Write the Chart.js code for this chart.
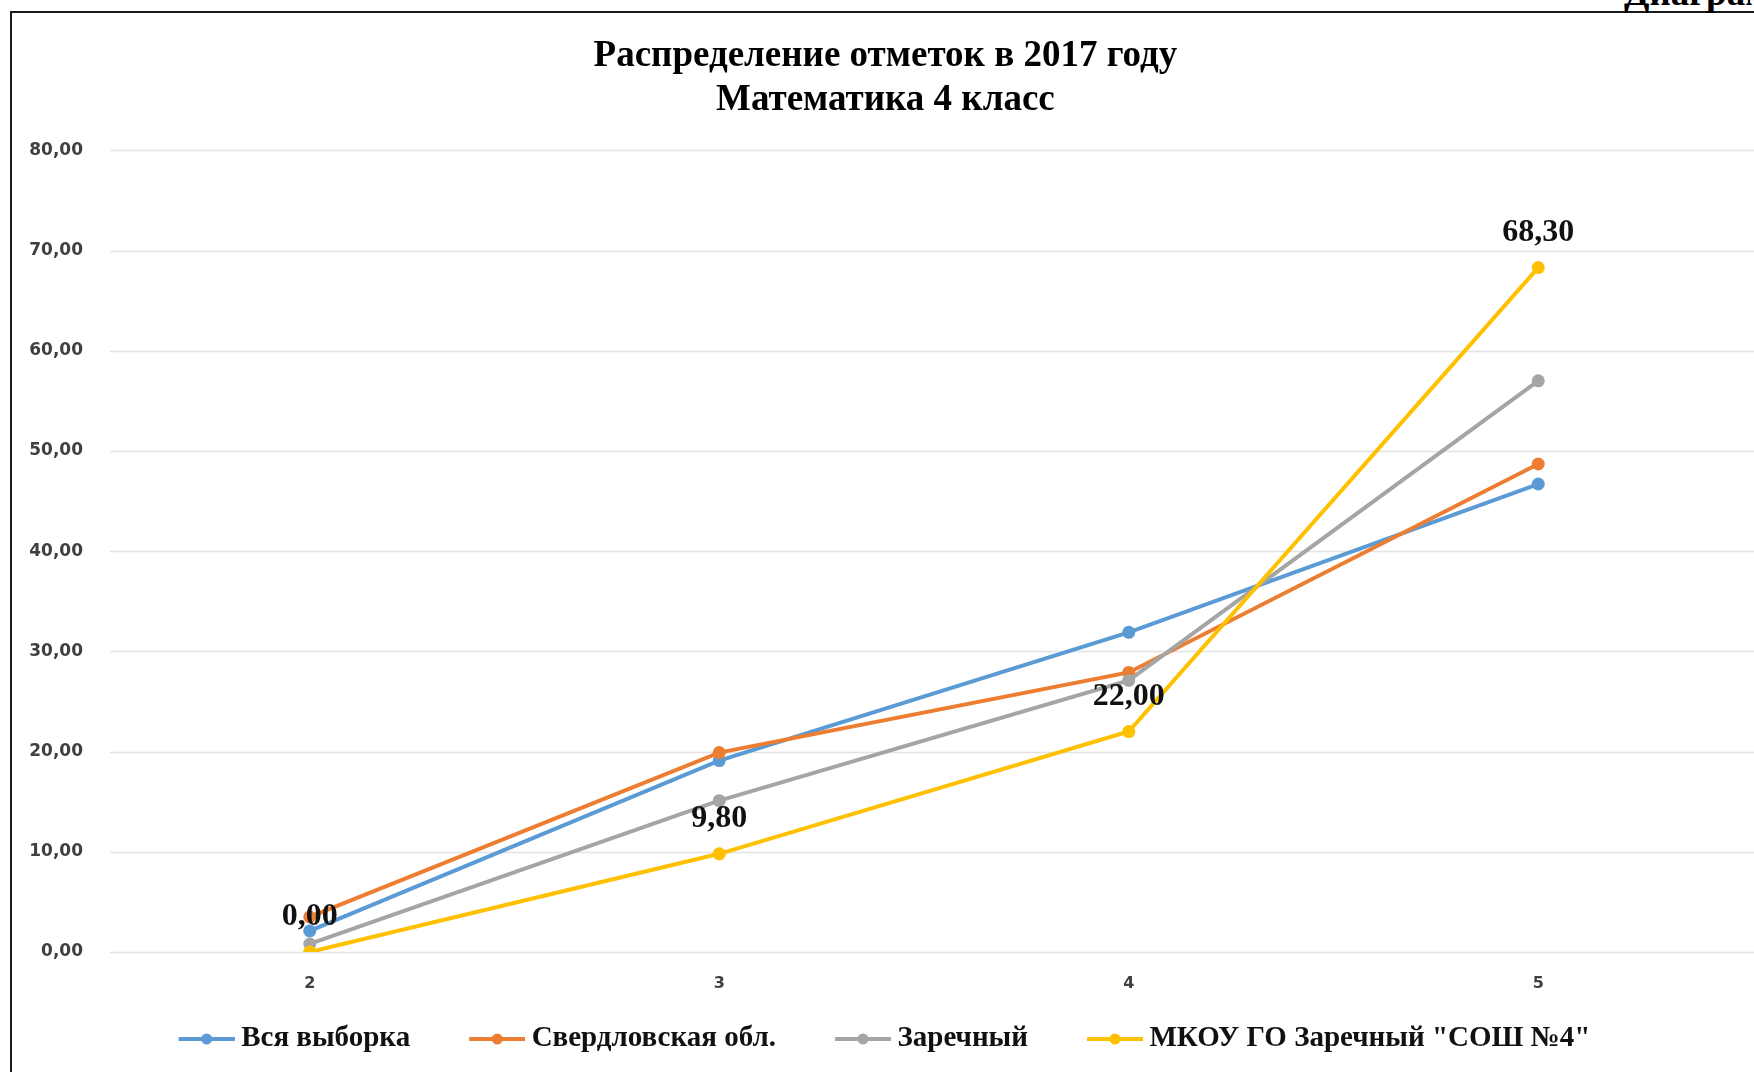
<!DOCTYPE html>
<html>
<head>
<meta charset="utf-8">
<title>Распределение отметок в 2017 году</title>
<script src="https://cdn.jsdelivr.net/npm/chart.js@4/dist/chart.umd.min.js"></script>
<style>
    html, body { margin: 0; padding: 0; background: #fff; overflow: hidden; }
    #wrap { position: relative; width: 1754px; height: 1072px; overflow: hidden; }
    #frame {
        position: absolute; left: 10px; top: 11px; width: 1800px; height: 1200px;
        border-left: 2px solid #1a1a1a; border-top: 2px solid #1a1a1a;
    }
    #caption {
        position: absolute; left: 1624px; top: -26px; white-space: nowrap;
        font: bold 37px/1 "Liberation Serif", serif; color: #000;
    }
    #chart { position: absolute; left: 0; top: 0; }
</style>
</head>
<body>
<div id="wrap">
    <div id="frame"></div>
    <div id="caption">Диаграмма 1</div>
    <canvas id="chart" width="1754" height="1072"></canvas>
</div>
<script>
    var categories = ["2", "3", "4", "5"];
    var allSample = [2.1, 19.1, 31.9, 46.7];      // Вся выборка
    var sverdlovsk = [3.5, 19.9, 27.9, 48.7];     // Свердловская обл.
    var zarechny = [0.8, 15.1, 27.1, 57.0];       // Заречный
    var school = [0.00, 9.80, 22.00, 68.30];      // МКОУ ГО Заречный "СОШ №4"
    var seriesNames = ["Вся выборка", "Свердловская обл.", "Заречный", "МКОУ ГО Заречный \"СОШ №4\""];
    var seriesColors = ["#5B9BD5", "#ED7D31", "#A5A5A5", "#FFC000"];
    var yMin = 0, yMax = 80, yStep = 10;

    function fmt(v) {
        return v.toFixed(2).replace(".", ",");
    }

    // line-with-dot picture for the legend, like in Excel.
    // the left part is empty so the items get more room between them
    function legendIcon(color) {
        var c = document.createElement("canvas");
        c.width = 90;
        c.height = 14;
        var g = c.getContext("2d");
        g.strokeStyle = color;
        g.lineWidth = 4;
        g.beginPath();
        g.moveTo(34, 7);
        g.lineTo(90, 7);
        g.stroke();
        g.fillStyle = color;
        g.beginPath();
        g.arc(62, 7, 5.5, 0, Math.PI * 2);
        g.fill();
        return c;
    }

    function makeSet(i, data, order) {
        return {
            label: seriesNames[i],
            data: data,
            order: order,
            borderColor: seriesColors[i],
            backgroundColor: seriesColors[i],
            borderWidth: 4,
            pointRadius: 6.5,
            pointBorderWidth: 0,
            pointBackgroundColor: seriesColors[i],
            tension: 0,
            fill: false
        };
    }

    // Excel draws the value grid from a bit right of the labels to the page edge
    var edgeGrid = {
        id: "edgeGrid",
        beforeDatasetsDraw: function(chart) {
            var ctx = chart.ctx;
            var y = chart.scales.y;
            ctx.save();
            ctx.strokeStyle = "#e3e3e3";
            ctx.lineWidth = 1.5;
            y.ticks.forEach(function(t) {
                var py = Math.round(y.getPixelForValue(t.value)) + 0.5;
                ctx.beginPath();
                ctx.moveTo(110, py);
                ctx.lineTo(chart.width, py);
                ctx.stroke();
            });
            ctx.restore();
        }
    };

    // value labels only for the school series
    var valueLabels = {
        id: "valueLabels",
        afterDatasetsDraw: function(chart) {
            var ctx = chart.ctx;
            var meta = chart.getDatasetMeta(3);
            ctx.save();
            ctx.font = "bold 32px 'Liberation Serif', serif";
            ctx.fillStyle = "#111";
            ctx.textAlign = "center";
            ctx.textBaseline = "middle";
            meta.data.forEach(function(pt, k) {
                ctx.fillText(fmt(school[k]), pt.x, pt.y - 35);
            });
            ctx.restore();
        }
    };

    var context = document.getElementById("chart");
    window.myChart = new Chart(context, {
        type: "line",
        data: {
            labels: categories,
            datasets: [
                makeSet(0, allSample, 3),
                makeSet(1, sverdlovsk, 2),
                makeSet(2, zarechny, 1),
                makeSet(3, school, 0)
            ]
        },
        options: {
            responsive: false,
            animation: false,
            layout: { padding: { top: 35, right: 11, bottom: 8.5, left: 0 } },
            plugins: {
                title: {
                    display: true,
                    // leading spaces push the title a bit right, as in the original
                    text: ["   Распределение отметок в 2017 году", "   Математика 4 класс"],
                    color: "#000",
                    font: { family: "'Liberation Serif', serif", size: 37, weight: "bold", lineHeight: 1.18 },
                    padding: { top: 0, bottom: 28 }
                },
                legend: {
                    position: "bottom",
                    labels: {
                        usePointStyle: true,
                        pointStyleWidth: 74,
                        padding: 33,
                        color: "#111",
                        font: { family: "'Liberation Serif', serif", size: 29, weight: "bold" },
                        sort: function(a, b) { return a.datasetIndex - b.datasetIndex; },
                        generateLabels: function(chart) {
                            var items = Chart.defaults.plugins.legend.labels.generateLabels(chart);
                            items.forEach(function(it) {
                                it.pointStyle = legendIcon(seriesColors[it.datasetIndex]);
                            });
                            return items;
                        }
                    }
                },
                tooltip: { enabled: false }
            },
            scales: {
                x: {
                    offset: true,
                    grid: { display: false, drawTicks: false },
                    border: { display: false },
                    ticks: {
                        padding: 22,
                        color: "#404040",
                        font: { family: "'DejaVu Sans', sans-serif", size: 16, weight: "bold" }
                    },
                    afterFit: function(scale) { scale.height = 39.5; }
                },
                y: {
                    min: yMin,
                    max: yMax,
                    grid: { display: false, drawTicks: false },
                    border: { display: false },
                    ticks: {
                        stepSize: yStep,
                        padding: 22,
                        color: "#404040",
                        font: { family: "'DejaVu Sans', sans-serif", size: 17, weight: "bold" },
                        callback: function(v) { return fmt(v); }
                    },
                    afterFit: function(scale) { scale.width = 105; }
                }
            }
        },
        plugins: [edgeGrid, valueLabels]
    });
</script>
</body>
</html>
